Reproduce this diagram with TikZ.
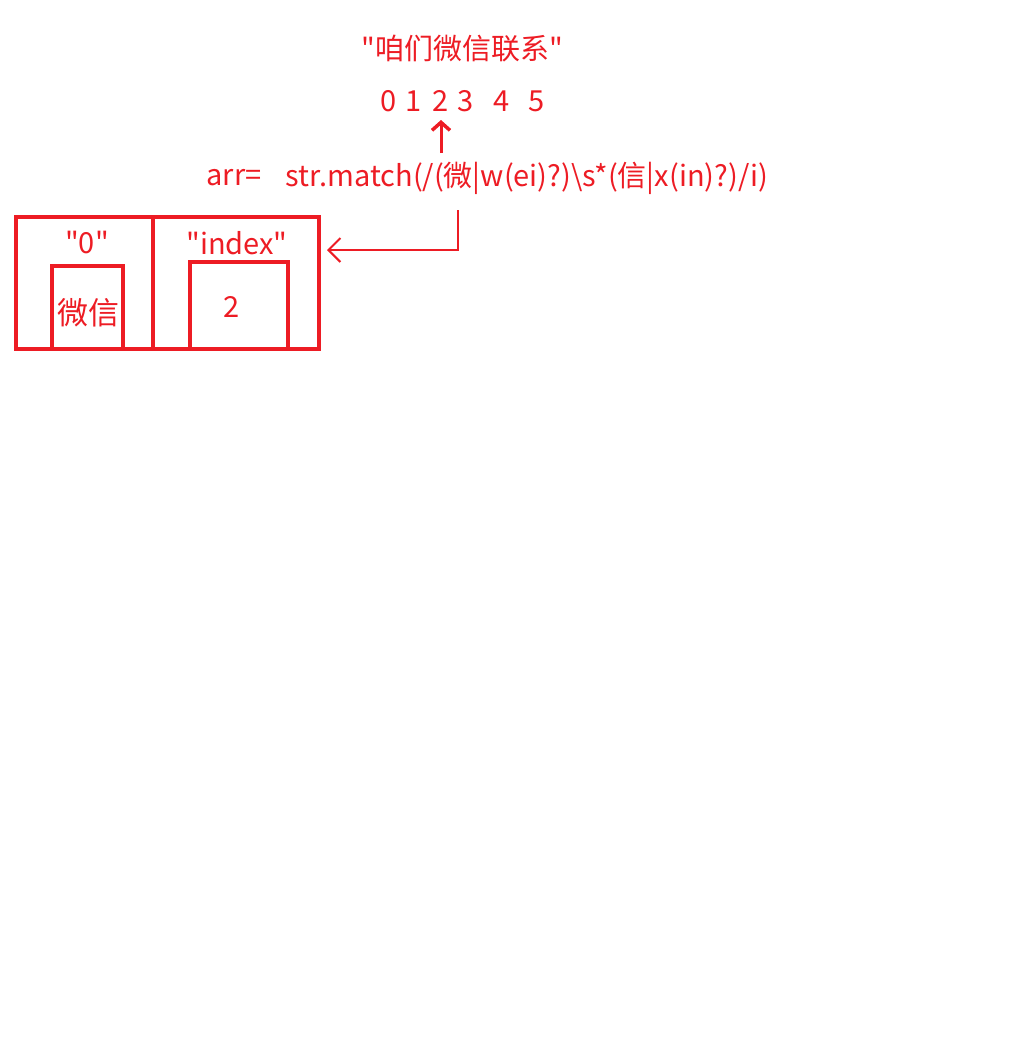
\documentclass[tikz,border=0pt]{standalone}
\usepackage{fontspec}
\setmainfont{Noto Sans CJK SC}[Ligatures=TeXOff]
\usetikzlibrary{arrows.meta}
\definecolor{rd}{HTML}{ED1C24}
\begin{document}
\begin{tikzpicture}[x=1pt,y=-1pt,
  txt/.style={text=rd,font=\fontsize{29}{34}\selectfont,inner sep=0pt},
  box/.style={draw=rd,line width=4pt,minimum width=0pt,minimum height=0pt,inner sep=0pt},
  con/.style={draw=rd,line width=3pt}]
\useasboundingbox (0,0) rectangle (1018,1053);
\node[txt] (title) at (462,49) {"咱们微信联系"};
\node[txt] (d0) at (389,101) {0};
\node[txt] (d1) at (414,101) {1};
\node[txt] (d2) at (441,101) {2};
\node[txt] (d3) at (466,101) {3};
\node[txt] (d4) at (502,101) {4};
\node[txt] (d5) at (537,101) {5};
\node[txt] (arr) at (234,178) {arr=};
\node[txt] (expr) at (527,178) {str.match(/(微|w(ei)?)\textbackslash s*(信|x(in)?)/i)};
\coordinate (upS) at (441,153);
\coordinate (upE) at (441,120);
\draw[con,-{Straight Barb[length=8pt,width=18pt,line width=3.5pt]}] (upS) -- (upE);
% boxes
\node[box,minimum width=137pt,minimum height=132pt] (cell0) at (84.5,283) {};
\node[box,minimum width=166pt,minimum height=132pt] (cell1) at (236,283) {};
\node[box,minimum width=71pt,minimum height=83pt] (in0) at (87.5,307.5) {};
\node[box,minimum width=98pt,minimum height=87pt] (in1) at (239,305.5) {};
\node[txt] (k0) at (87,243) {"0"};
\node[txt] (k1) at (237,243) {"index"};
\begin{scope}
\clip (52,266) rectangle (119,349);
\node[txt,font=\fontsize{31}{34}\selectfont,anchor=west] (v0) at (57,313) {微信};
\end{scope}
\node[txt] (v1) at (232,307) {2};
\coordinate (aS) at (458,210);
\coordinate (aC) at (458,250);
\draw[con,line width=2.5pt,-{Straight Barb[length=12pt,width=24pt,line width=2pt]}] (aS) -- (aC) -- ([xshift=6pt]cell1.east |- aC);
\end{tikzpicture}
\end{document}
